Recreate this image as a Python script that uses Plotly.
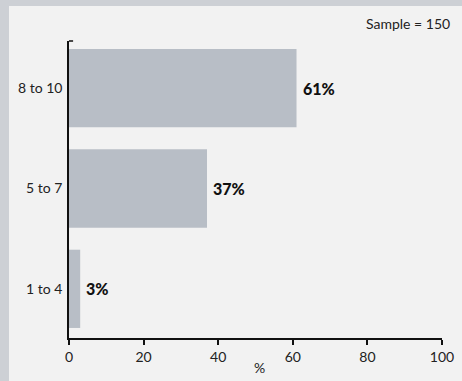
import plotly.graph_objects as go

categories = ["1 to 4", "5 to 7", "8 to 10"]
values = [3, 37, 61]
value_labels = ["3%", "37%", "61%"]
x_ticks = [0, 20, 40, 60, 80, 100]
x_title = "%"
sample_note = "Sample = 150"

bar_color = "#b8bec6"
panel_color = "#f2f2f2"
outer_color = "#cdd0d5"
font_family = "Lato, Open Sans, sans-serif"

fig = go.Figure(
    go.Bar(
        y=categories,
        x=values,
        orientation="h",
        marker=dict(color=bar_color, line=dict(width=0)),
        width=0.78,
        hoverinfo="skip",
    )
)

# value labels just right of each bar
for cat, val, lab in zip(categories, values, value_labels):
    fig.add_annotation(
        x=val, y=cat, text=lab, showarrow=False,
        xanchor="left", yanchor="middle", xshift=4,
        font=dict(family=font_family, size=16, color="#111111", weight=900),
    )

fig.add_annotation(
    x=1.027, y=1.025, xref="paper", yref="paper", text=sample_note,
    showarrow=False, xanchor="right", yanchor="bottom",
    font=dict(family=font_family, size=14, color="#222222"),
)

# axis title placed under the tick labels
fig.add_annotation(
    x=0.51, y=-0.065, xref="paper", yref="paper", text=x_title,
    showarrow=False, xanchor="center", yanchor="top",
    font=dict(family=font_family, size=14, color="#222222"),
)

# light panel behind the chart
fig.add_shape(
    type="rect", xref="paper", yref="paper",
    x0=-0.1609, x1=1.06, y0=-0.16, y1=1.1178,
    fillcolor=panel_color, line=dict(width=0), layer="below",
)
# small cap at the top of the category axis
fig.add_shape(
    type="line", xref="paper", yref="paper",
    x0=0, x1=0.011, y0=1.0, y1=1.0,
    line=dict(color="#111111", width=1.5),
)

fig.update_layout(
    width=462, height=381,
    margin=dict(l=69, r=20, t=41, b=43, autoexpand=False),
    paper_bgcolor=outer_color,
    plot_bgcolor=panel_color,
    showlegend=False,
    font=dict(family=font_family, size=14, color="#222222"),
    xaxis=dict(
        range=[0, 100], tickvals=x_ticks, showgrid=False, zeroline=False,
        showline=True, linecolor="#111111", linewidth=1.5,
        ticks="outside", ticklen=5, tickwidth=1.5, tickcolor="#111111",
        tickfont=dict(size=14, color="#222222"),
        automargin=False, fixedrange=True,
    ),
    yaxis=dict(
        range=[-0.49, 2.47], showgrid=False, zeroline=False,
        showline=True, linecolor="#111111", linewidth=1.5,
        ticks="", ticklabelstandoff=2,
        tickfont=dict(size=14, color="#222222"),
        automargin=False, fixedrange=True,
    ),
)

fig.write_html("out.html")
